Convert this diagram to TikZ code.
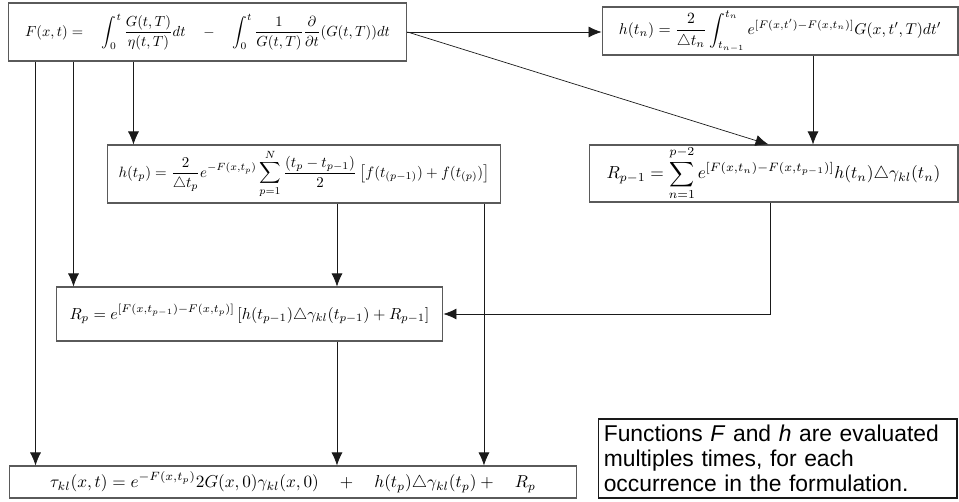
\documentclass[tikz,border=0pt]{standalone}
\usepackage{amsmath}
\usepackage{fontspec}
\newfontfamily\notefont{Liberation Sans}
\usepackage{tikz}
\usetikzlibrary{arrows.meta,positioning,calc}
\definecolor{ink}{HTML}{1A1A1A}
\definecolor{frame}{HTML}{5A5A5A}
\newcommand{\eqn}[2]{\scalebox{#1}{$\displaystyle #2$}}
\tikzset{>={Latex[length=2.6mm,width=2.2mm]},
  eqbox/.style={draw=frame,semithick,inner sep=0pt,align=center,anchor=center},
  notebox/.style={draw=ink,semithick,inner sep=0pt,anchor=center,align=left,
    font=\notefont\fontsize{13}{14.2}\selectfont},
  flow/.style={->,thin,ink}}

\begin{document}
\begin{tikzpicture}[x=0.02cm,y=-0.02cm]
  \useasboundingbox (0,0) rectangle (959,502);
  % formula boxes
  \node[eqbox,minimum width=7.98cm,minimum height=1.16cm] (Fbox) at (207.5,32)
    {\eqn{0.83}{F(x,t)=\quad\int_0^t\frac{G(t,T)}{\eta(t,T)}dt\quad-\quad\int_0^t\frac{1}{G(t,T)}\frac{\partial}{\partial t}(G(t,T))dt}};
  \node[eqbox,minimum width=7.12cm,minimum height=0.96cm] (hn) at (780,31)
    {\eqn{0.89}{h(t_n)=\frac{2}{\triangle t_n}\int_{t_{n-1}}^{t_n}e^{[F(x,t')-F(x,t_n)]}G(x,t',T)dt'}};
  \node[eqbox,minimum width=7.88cm,minimum height=1.16cm] (hp) at (304,174)
    {\eqn{0.85}{h(t_p)=\frac{2}{\triangle t_p}e^{-F(x,t_p)}\sum_{p=1}^{N}\frac{(t_p-t_{p-1})}{2}\left[f(t_{(p-1)})+f(t_{(p)})\right]}};
  \node[eqbox,minimum width=7.38cm,minimum height=1.14cm] (Rm) at (773.5,173.5)
    {\eqn{0.99}{R_{p-1}=\sum_{n=1}^{p-2}e^{[F(x,t_n)-F(x,t_{p-1})]}h(t_n)\triangle\gamma_{kl}(t_n)}};
  \node[eqbox,minimum width=7.74cm,minimum height=1.08cm] (Rp) at (249.5,314)
    {\eqn{0.91}{R_p=e^{[F(x,t_{p-1})-F(x,t_p)]}\left[h(t_{p-1})\triangle\gamma_{kl}(t_{p-1})+R_{p-1}\right]}};
  \node[eqbox,minimum width=11.36cm,minimum height=0.64cm] (tau) at (293,482)
    {\eqn{0.98}{\tau_{kl}(x,t)=e^{-F(x,t_p)}2G(x,0)\gamma_{kl}(x,0)\quad+\quad h(t_p)\triangle\gamma_{kl}(t_p)+\quad R_p}};
  \node[notebox,minimum width=7.18cm,minimum height=1.58cm,text width=6.95cm] (note) at (777.5,458.5)
    {Functions \textit{F} and \textit{h} are evaluated\\multiples times, for each\\occurrence in the formulation.};
  % connectors
  \draw[flow] (Fbox.east) -- (Fbox.east -| hn.west);
  \draw[flow] (Fbox.east) -- ([xshift=-0.1cm]Rm.north);
  \draw[flow] ([xshift=0.66cm]hn.south) -- ([xshift=0.66cm]hn.south |- Rm.north);
  \draw[flow] ([xshift=0.56cm]Fbox.south west) -- ([xshift=0.56cm]Fbox.south west |- tau.north);
  \draw[flow] ([xshift=1.32cm]Fbox.south west) -- ([xshift=1.32cm]Fbox.south west |- Rp.north);
  \draw[flow] ([xshift=2.52cm]Fbox.south west) -- ([xshift=2.52cm]Fbox.south west |- hp.north);
  \draw[flow] ([xshift=0.66cm]hp.south) -- ([xshift=0.66cm]hp.south |- Rp.north);
  \draw[flow] ([xshift=3.6cm]hp.south) -- ([xshift=3.6cm]hp.south |- tau.north);
  \draw[flow] ([xshift=1.75cm]Rp.south) -- ([xshift=1.75cm]Rp.south |- tau.north);
  \draw[flow] ([xshift=-0.07cm]Rm.south) |- (Rp.east);
\end{tikzpicture}
\end{document}
